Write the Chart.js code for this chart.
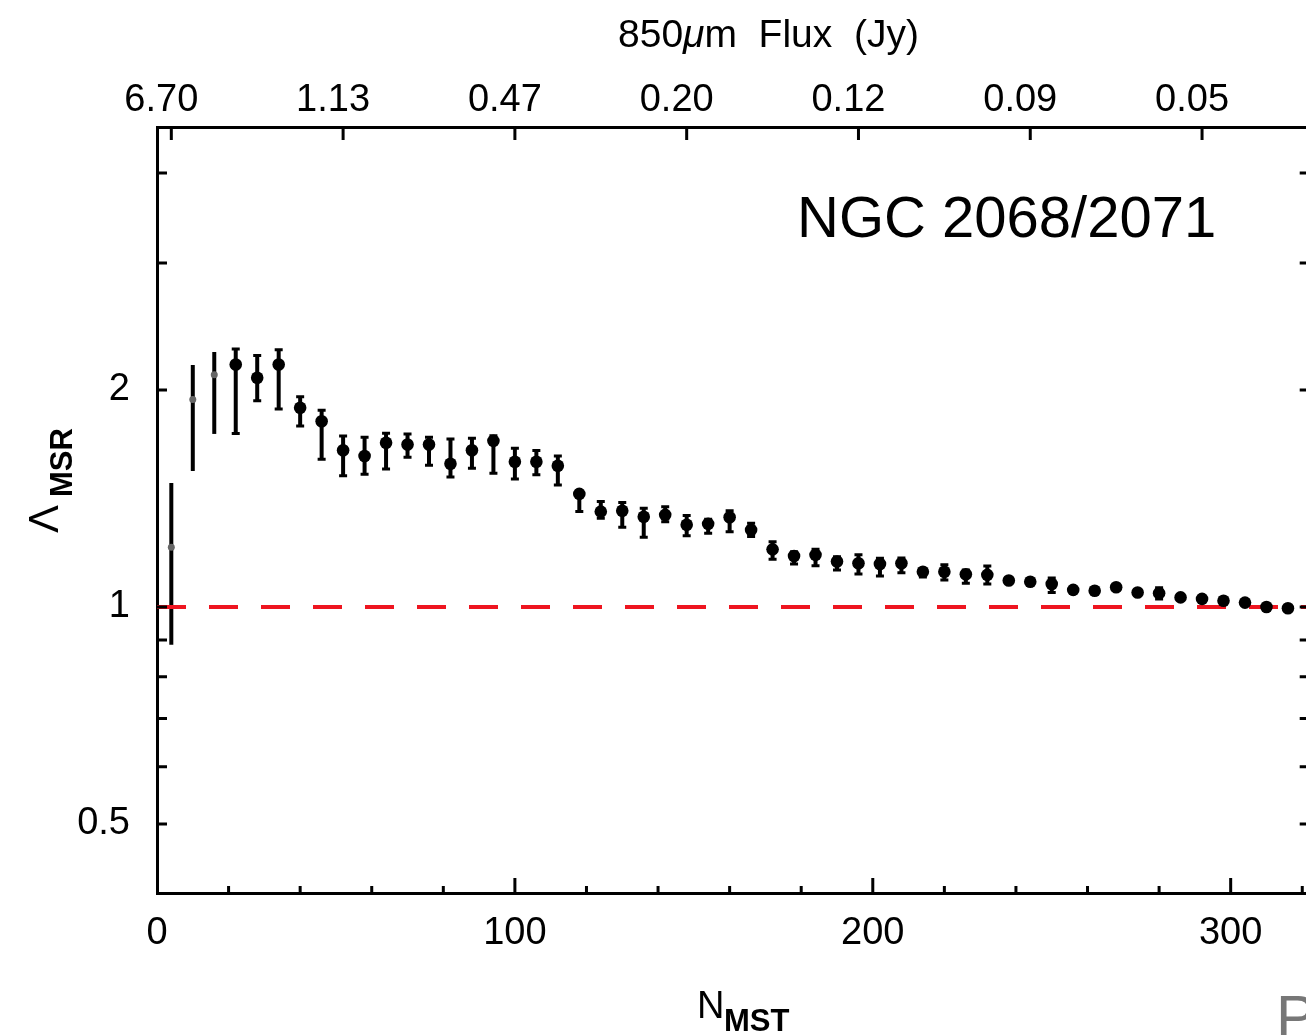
<!DOCTYPE html>
<html>
<head>
<meta charset="utf-8">
<script src="https://cdn.jsdelivr.net/npm/chart.js@4.4.1/dist/chart.umd.min.js"></script>
<style>
  html, body { margin: 0; padding: 0; background: #fff; overflow: hidden; }
  #frame { width: 1306px; height: 1035px; overflow: hidden; }
  #wrap { width: 1315px; height: 1035px; position: relative; }
</style>
</head>
<body>
<div id="frame"><div id="wrap"><canvas id="grafico"></canvas></div></div>
<script>
// N_MST of each point
const nMst = [4, 10, 16, 22, 28, 34, 40, 46, 52, 58, 64, 70, 76, 82, 88, 94, 100, 106,
  112, 118, 124, 130, 136, 142, 148, 154, 160, 166, 172, 178, 184, 190, 196, 202, 208,
  214, 220, 226, 232, 238, 244, 250, 256, 262, 268, 274, 280, 286, 292, 298, 304, 310, 316];
// Lambda_MSR and lower / upper end of the error bars
const lambdaMsr = [1.21, 1.94, 2.10, 2.17, 2.08, 2.17, 1.89, 1.81, 1.65, 1.62, 1.69, 1.68,
  1.68, 1.58, 1.65, 1.70, 1.59, 1.59, 1.57, 1.435, 1.356, 1.36, 1.334, 1.342, 1.30, 1.304,
  1.332, 1.279, 1.202, 1.177, 1.181, 1.156, 1.15, 1.147, 1.15, 1.119, 1.119, 1.11, 1.108,
  1.088, 1.084, 1.076, 1.056, 1.053, 1.065, 1.047, 1.045, 1.031, 1.026, 1.020, 1.014, 1.0, 0.996];
const lambdaLo = [0.886, 1.544, 1.738, 1.74, 1.933, 1.882, 1.783, 1.603, 1.521, 1.528, 1.554,
  1.613, 1.572, 1.514, 1.557, 1.533, 1.505, 1.525, 1.476, 1.356, 1.328, 1.29, 1.249, 1.313,
  1.255, 1.265, 1.272, 1.252, 1.165, 1.147, 1.141, 1.125, 1.111, 1.104, 1.115, 1.10, 1.09,
  1.079, 1.076, 1.08, 1.077, 1.047, 1.05, 1.047, 1.058, 1.041, 1.026, 1.026, 1.021, 1.016,
  1.01, 0.996, 0.993];
const lambdaHi = [1.486, 2.166, 2.258, 2.28, 2.232, 2.275, 1.957, 1.874, 1.727, 1.72, 1.742,
  1.737, 1.72, 1.71, 1.714, 1.728, 1.66, 1.648, 1.62, 1.45, 1.40, 1.396, 1.371, 1.377, 1.339,
  1.323, 1.36, 1.307, 1.232, 1.193, 1.202, 1.174, 1.181, 1.168, 1.169, 1.13, 1.144, 1.125,
  1.140, 1.095, 1.091, 1.097, 1.062, 1.059, 1.072, 1.053, 1.063, 1.036, 1.031, 1.024, 1.018,
  1.004, 0.999];

// reference line Lambda = 1
const rifN = [0, 321.8];
const rifY = [1, 1];

// axes
const xTicks = [0, 100, 200, 300];
const xMinor = [20, 40, 60, 80, 100, 120, 140, 160, 180, 200, 220, 240, 260, 280, 300, 320];
const yTicks = [0.5, 0.6, 0.7, 0.8, 0.9, 1, 2, 3, 4];
const yLabelled = [0.5, 1, 2];
const fluxN = [4, 52, 100, 148, 196, 244, 292];
const fluxLabels = ["6.70", "1.13", "0.47", "0.20", "0.12", "0.09", "0.05"];

const font = "'Liberation Sans', Arial, Helvetica, sans-serif";

// error bars, drawn under the points
const barreErrore = {
  id: "barreErrore",
  beforeDatasetsDraw(chart) {
    const { ctx, scales } = chart;
    ctx.save();
    ctx.strokeStyle = "#000";
    nMst.forEach((n, i) => {
      const x = scales.x.getPixelForValue(n);
      const yl = scales.y.getPixelForValue(lambdaLo[i]);
      const yh = scales.y.getPixelForValue(lambdaHi[i]);
      ctx.lineWidth = 4;
      ctx.beginPath();
      ctx.moveTo(x, yl);
      ctx.lineTo(x, yh);
      ctx.stroke();
      if (i >= 3) {
        ctx.lineWidth = 3;
        ctx.beginPath();
        ctx.moveTo(x - 4, yl); ctx.lineTo(x + 4, yl);
        ctx.moveTo(x - 4, yh); ctx.lineTo(x + 4, yh);
        ctx.stroke();
      }
    });
    ctx.restore();
  }
};

// tick marks pointing inside the frame
const segniInterni = {
  id: "segniInterni",
  afterDraw(chart) {
    const { ctx, chartArea: a, scales } = chart;
    ctx.save();
    ctx.strokeStyle = "#000";
    ctx.lineWidth = 3;
    ctx.beginPath();
    yTicks.forEach(v => {
      const y = scales.y.getPixelForValue(v);
      ctx.moveTo(a.left, y); ctx.lineTo(a.left + 10, y);
      ctx.moveTo(a.right, y); ctx.lineTo(a.right - 9, y);
    });
    xMinor.forEach(v => {
      const x = scales.x.getPixelForValue(v);
      const len = xTicks.includes(v) ? 15 : 7;
      ctx.moveTo(x, a.bottom); ctx.lineTo(x, a.bottom - len);
    });
    fluxN.forEach(v => {
      const x = scales.x2.getPixelForValue(v);
      ctx.moveTo(x, a.top); ctx.lineTo(x, a.top + 13);
    });
    ctx.stroke();
    ctx.restore();
  }
};

// titles with subscripts and the cluster name
const titoli = {
  id: "titoli",
  afterDraw(chart) {
    const { ctx } = chart;
    ctx.save();
    ctx.fillStyle = "#000";
    ctx.textBaseline = "alphabetic";

    // top: 850um Flux (Jy)
    let x = 618;
    ctx.font = "39px " + font;
    ctx.fillText("850", x, 47); x += ctx.measureText("850").width;
    ctx.font = "italic 39px " + font;
    ctx.fillText("\u03bc", x, 47); x += ctx.measureText("\u03bc").width;
    ctx.font = "39px " + font;
    ctx.fillText("m  Flux  (Jy)", x, 47);

    // bottom: N_MST
    ctx.font = "38px " + font;
    ctx.fillText("N", 697, 1018);
    ctx.font = "bold 31px " + font;
    ctx.fillText("MST", 724, 1031);

    // left: Lambda_MSR
    ctx.translate(58, 533);
    ctx.rotate(-Math.PI / 2);
    ctx.font = "42px " + font;
    ctx.fillText("\u039b", 0, 0);
    ctx.font = "bold 31px " + font;
    ctx.fillText("MSR", 36, 14);
    ctx.setTransform(1, 0, 0, 1, 0, 0);

    ctx.font = "58px " + font;
    ctx.fillText("NGC 2068/2071", 797, 237);

    ctx.fillStyle = "#777";
    ctx.font = "60px " + font;
    ctx.fillText("P", 1276, 1037);
    ctx.restore();
  }
};

const ctx = document.getElementById("grafico").getContext("2d");
new Chart(ctx, {
  type: "scatter",
  data: {
    datasets: [
      {
        type: "line",
        data: rifN.map((n, i) => ({ x: n, y: rifY[i] })),
        borderColor: "#ee1520",
        borderWidth: 4,
        borderDash: [29, 23],
        pointRadius: 0,
        order: 2
      },
      {
        data: nMst.map((n, i) => ({ x: n, y: lambdaMsr[i] })),
        backgroundColor: c => (c.dataIndex < 3 ? "#666" : "#000"),
        borderColor: "#000",
        borderWidth: 0,
        pointRadius: c => (c.dataIndex < 3 ? 3.5 : 6.3),
        order: 1
      }
    ]
  },
  options: {
    responsive: true,
    maintainAspectRatio: false,
    animation: false,
    devicePixelRatio: 1,
    layout: { padding: { left: 0, right: 0, top: 0, bottom: 0 } },
    plugins: { legend: { display: false }, tooltip: { enabled: false } },
    scales: {
      x: {
        type: "linear",
        position: "bottom",
        min: 0,
        max: 321.8,
        grid: { display: false, drawTicks: false },
        border: { display: true, color: "#000", width: 3 },
        afterBuildTicks: s => { s.ticks = xTicks.map(v => ({ value: v })); },
        afterFit: s => { s.height = 142; },
        ticks: { color: "#000", padding: 18, maxRotation: 0, font: { family: font, size: 38 } }
      },
      x2: {
        type: "linear",
        position: "top",
        min: 0,
        max: 321.8,
        grid: { display: false, drawTicks: false },
        border: { display: true, color: "#000", width: 3 },
        afterBuildTicks: s => { s.ticks = fluxN.map(v => ({ value: v })); },
        afterFit: s => { s.height = 127; },
        ticks: {
          color: "#000",
          padding: 4,
          maxRotation: 0,
          labelOffset: -10,
          autoSkip: false,
          font: { family: font, size: 38 },
          callback: v => fluxLabels[fluxN.indexOf(v)]
        }
      },
      y: {
        type: "logarithmic",
        position: "left",
        min: 0.401,
        max: 4.633,
        grid: { display: false, drawTicks: false },
        border: { display: true, color: "#000", width: 3 },
        afterBuildTicks: s => { s.ticks = yTicks.map(v => ({ value: v })); },
        afterFit: s => { s.width = 157; },
        ticks: {
          color: "#000",
          padding: 27,
          autoSkip: false,
          font: { family: font, size: 38 },
          callback: v => (yLabelled.includes(v) ? String(v) : "")
        }
      }
    }
  },
  plugins: [barreErrore, segniInterni, titoli]
});
</script>
</body>
</html>
